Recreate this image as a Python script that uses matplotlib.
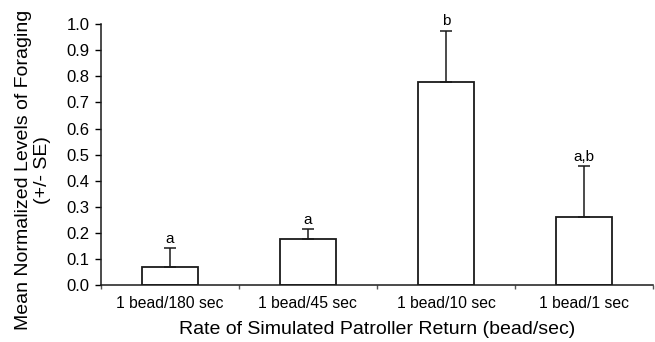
import matplotlib
matplotlib.use("Agg")
import matplotlib.pyplot as plt
import numpy as np

plt.rcParams['font.family'] = ['Liberation Sans', 'DejaVu Sans']

'''Data read off the chart'''
categories = ["1 bead/180 sec", "1 bead/45 sec", "1 bead/10 sec", "1 bead/1 sec"]
means = [0.07, 0.175, 0.78, 0.26]
se = [0.07, 0.038, 0.195, 0.195]
letters = ["a", "a", "b", "a,b"]

fig = plt.figure(figsize=(6.55, 3.42), dpi=100)
ax = fig.add_axes([0.154, 0.167, 0.843, 0.762])

x = np.arange(len(categories))
ax.bar(x, means, width=0.41, color="white", edgecolor="#1a1a1a", linewidth=1.3, zorder=2)
ax.errorbar(x, means, yerr=[np.zeros(len(se)), se], fmt="none", ecolor="#1a1a1a",
            elinewidth=1.1, capsize=4, capthick=1.1, zorder=3)

#Significance letters above the caps
for xi, m, s, lab in zip(x, means, se, letters):
    ax.text(xi, m + s + 0.01, lab, ha="center", va="bottom", fontsize=11)

ax.set_xlim(-0.5, len(categories) - 0.5)
ax.set_ylim(0, 1.0)
ax.set_yticks(np.arange(0, 1.01, 0.1))
ax.set_yticklabels(["%.1f" % v for v in np.arange(0, 1.01, 0.1)], fontsize=12)

#category labels centered, tick marks between categories
ax.set_xticks(np.arange(-0.5, len(categories), 1.0))
ax.set_xticklabels([])
ax.set_xticks(x, minor=True)
ax.set_xticklabels(categories, minor=True, fontsize=11.3)
ax.tick_params(axis="x", which="minor", length=0, pad=8)
ax.tick_params(axis="x", which="major", length=3, width=1, color="#555555")
ax.tick_params(axis="y", length=4, width=1, pad=4)

for side in ["top", "right"]:
    ax.spines[side].set_visible(False)
for side in ["left", "bottom"]:
    ax.spines[side].set_linewidth(1.1)
    ax.spines[side].set_color("#1a1a1a")

ax.set_xlabel("Rate of Simulated Patroller Return (bead/sec)", fontsize=14, labelpad=7)
ax.set_ylabel("Mean Normalized Levels of Foraging\n(+/- SE)", fontsize=14, va="center")
ax.yaxis.set_label_coords(-0.123, 0.441)

fig.savefig("out.png", dpi=100)
